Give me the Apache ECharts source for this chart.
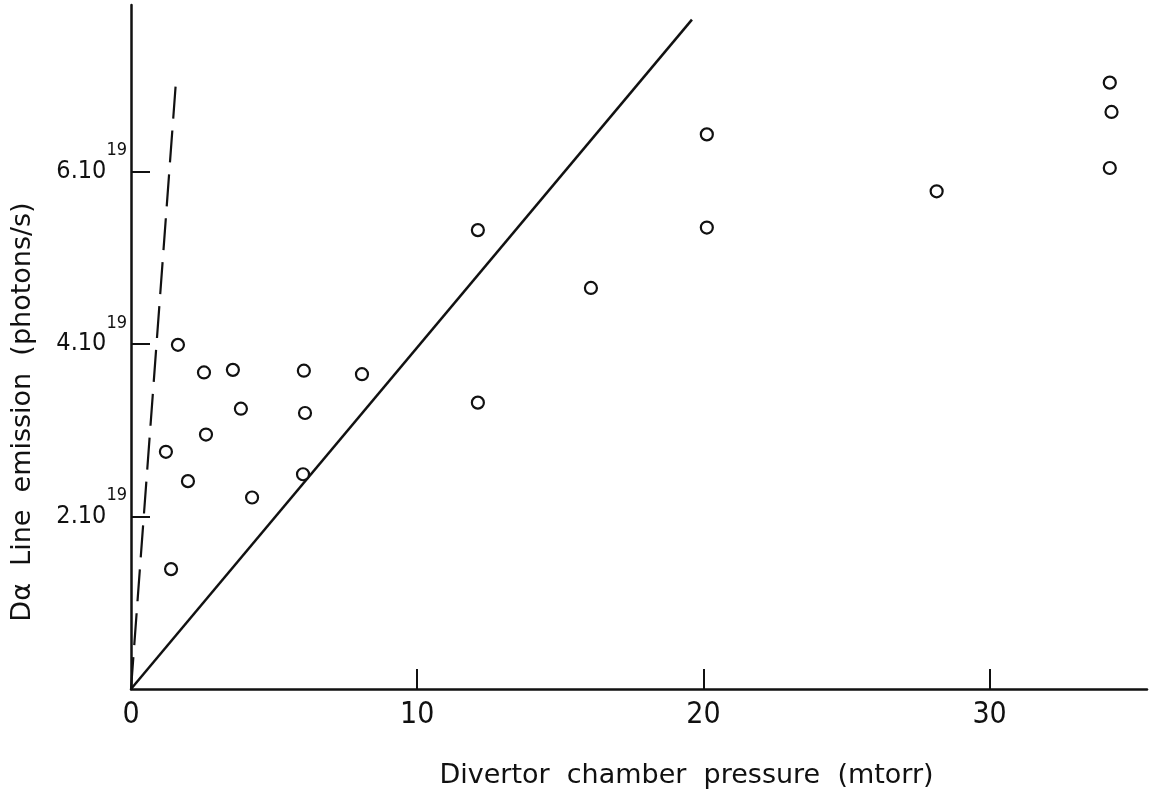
<!DOCTYPE html>
<html>
<head>
<meta charset="utf-8">
<script src="https://cdn.jsdelivr.net/npm/echarts@6/dist/echarts.min.js"></script>
<style>html,body{margin:0;padding:0;background:#fff;}#c{width:1149px;height:789px;}</style>
</head>
<body>
<div id="c"></div>
<script>
// Divertor chamber pressure (mtorr)
const pressure = [1.64, 2.55, 3.56, 6.04, 8.07, 3.84, 6.08, 2.62, 1.22, 1.99, 4.23, 6.01, 1.40, 12.12, 12.12, 16.07, 20.12, 20.12, 28.15, 34.2, 34.26, 34.2];
// D-alpha line emission (units of 10^19 photons/s)
const emission = [3.99, 3.67, 3.70, 3.69, 3.65, 3.25, 3.20, 2.95, 2.75, 2.41, 2.22, 2.49, 1.39, 5.32, 3.32, 4.65, 6.43, 5.35, 5.77, 7.03, 6.69, 6.04];
// reference lines
const solidLineX = [0, 19.6];
const solidLineY = [0, 7.76];
const dashedLineX = [0, 1.57];
const dashedLineY = [0, 7.04];
// tick labels
const xTicks = [0, 10, 20, 30];
const yTicks = [2, 4, 6];

const font = "'Liberation Sans Narrow', 'DejaVu Sans Condensed', 'DejaVu Sans', sans-serif";
const nameFont = "'DejaVu Sans', sans-serif";
const ink = '#111';

const chart = echarts.init(document.getElementById('c'), null, {renderer: 'canvas'});
chart.setOption({
  backgroundColor: '#fff',
  animation: false,
  grid: {left: 131, right: 2, top: 5, bottom: 100, containLabel: false, outerBoundsMode: 'none'},
  xAxis: {
    type: 'value', min: 0, max: 35.5, interval: 10,
    name: 'Divertor  chamber  pressure  (mtorr)',
    nameLocation: 'middle', nameGap: 73,
    nameTextStyle: {fontFamily: nameFont, fontSize: 27, color: ink, padding: [0, 0, 0, 95]},
    axisLine: {lineStyle: {color: ink, width: 2.5}},
    axisTick: {inside: true, length: 20, customValues: [10, 20, 30], lineStyle: {color: ink, width: 2}},
    splitLine: {show: false},
    axisLabel: {
      margin: 11, color: ink, fontFamily: font, fontSize: 30,
      customValues: xTicks,
      formatter: v => String(v)
    }
  },
  yAxis: {
    type: 'value', min: 0, max: 7.93, interval: 2,
    name: 'Dα  Line  emission  (photons/s)',
    nameLocation: 'middle', nameGap: 95, nameRotate: 90,
    nameTextStyle: {fontFamily: nameFont, fontSize: 27, color: ink, padding: [0, 130, 0, 0]},
    axisLine: {lineStyle: {color: ink, width: 2.5}},
    axisTick: {inside: true, length: 19, customValues: yTicks, lineStyle: {color: ink, width: 2}},
    splitLine: {show: false},
    axisLabel: {
      margin: 4, color: ink,
      customValues: yTicks,
      formatter: v => `{m|${v}.10}{s|19}`,
      rich: {
        m: {fontFamily: font, fontSize: 25, lineHeight: 60, color: ink},
        s: {fontFamily: font, fontSize: 18, lineHeight: 10, verticalAlign: 'top', color: ink}
      }
    }
  },
  series: [
    {
      type: 'line', data: solidLineX.map((x, i) => [x, solidLineY[i]]),
      showSymbol: false, lineStyle: {color: ink, width: 2.5}, z: 2
    },
    {
      type: 'line', data: dashedLineX.map((x, i) => [x, dashedLineY[i]]),
      showSymbol: false, lineStyle: {color: ink, width: 2.2, type: [32, 12]}, z: 2
    },
    {
      type: 'scatter', data: pressure.map((x, i) => [x, emission[i]]),
      symbol: 'circle', symbolSize: 12,
      itemStyle: {color: '#fff', borderColor: ink, borderWidth: 2.2, opacity: 1}, z: 3
    }
  ]
});
</script>
</body>
</html>
